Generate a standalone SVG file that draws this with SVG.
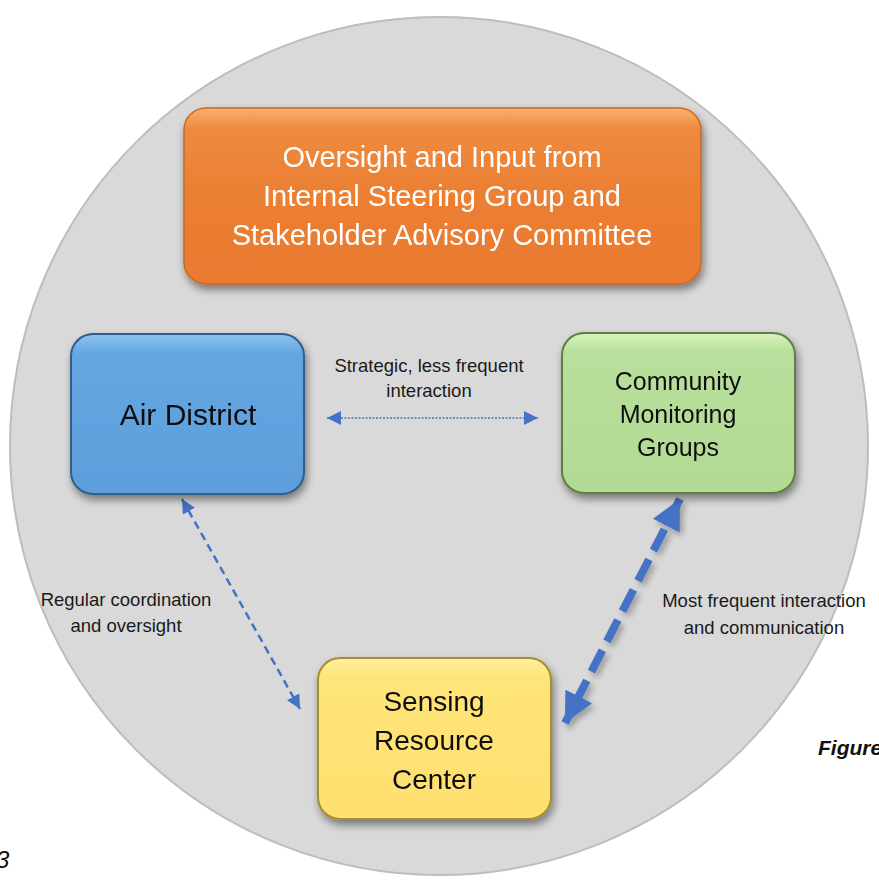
<svg xmlns="http://www.w3.org/2000/svg" width="879" height="880" viewBox="0 0 879 880">
  <defs>
    <style>
      .lbl { font-family: "Liberation Sans", Arial, sans-serif; font-size: 18.5px; fill: #1a1a1a; text-anchor: middle; }
      .big { font-family: "Liberation Sans", Arial, sans-serif; text-anchor: middle; }
      .conn { fill: none; stroke: #4472C4; }
    </style>
    <filter id="shadow" x="-20%" y="-20%" width="140%" height="150%">
      <feGaussianBlur in="SourceAlpha" stdDeviation="4"/>
      <feOffset dx="2" dy="5" result="b"/>
      <feComponentTransfer><feFuncA type="linear" slope="0.45"/></feComponentTransfer>
      <feMerge><feMergeNode/><feMergeNode in="SourceGraphic"/></feMerge>
    </filter>
    <filter id="arrowShadow" x="-30%" y="-30%" width="160%" height="160%">
      <feGaussianBlur in="SourceAlpha" stdDeviation="3"/>
      <feOffset dx="3" dy="4"/>
      <feComponentTransfer><feFuncA type="linear" slope="0.3"/></feComponentTransfer>
      <feMerge><feMergeNode/><feMergeNode in="SourceGraphic"/></feMerge>
    </filter>
    <linearGradient id="gOrange" x1="0" y1="0" x2="0" y2="1">
      <stop offset="0" stop-color="#F9B06C"/>
      <stop offset="0.12" stop-color="#EE8A3E"/>
      <stop offset="0.5" stop-color="#EB7F33"/>
      <stop offset="1" stop-color="#E97A30"/>
    </linearGradient>
    <linearGradient id="gBlue" x1="0" y1="0" x2="0" y2="1">
      <stop offset="0" stop-color="#8CC4F0"/>
      <stop offset="0.12" stop-color="#64A6E2"/>
      <stop offset="1" stop-color="#5E9EDC"/>
    </linearGradient>
    <linearGradient id="gGreen" x1="0" y1="0" x2="0" y2="1">
      <stop offset="0" stop-color="#D6F2BC"/>
      <stop offset="0.12" stop-color="#B8E09C"/>
      <stop offset="1" stop-color="#B2DA94"/>
    </linearGradient>
    <linearGradient id="gYellow" x1="0" y1="0" x2="0" y2="1">
      <stop offset="0" stop-color="#FFF0A0"/>
      <stop offset="0.12" stop-color="#FFE478"/>
      <stop offset="1" stop-color="#FFE070"/>
    </linearGradient>
    <marker id="hSmall" viewBox="0 0 10 10" refX="10" refY="5" markerWidth="14" markerHeight="16" markerUnits="userSpaceOnUse" orient="auto-start-reverse">
      <path d="M0,0 L10,5 L0,10 Z" fill="#4472C4"/>
    </marker>
    <marker id="hMid" viewBox="0 0 10 10" refX="10" refY="5" markerWidth="14" markerHeight="14" markerUnits="userSpaceOnUse" orient="auto-start-reverse">
      <path d="M0,0 L10,5 L0,10 Z" fill="#4472C4"/>
    </marker>
    <marker id="hBig" viewBox="0 0 10 10" refX="10" refY="5" markerWidth="30" markerHeight="30" markerUnits="userSpaceOnUse" orient="auto-start-reverse">
      <path d="M0,0 L10,5 L0,10 Z" fill="#4472C4"/>
    </marker>
  </defs>

  <rect width="879" height="880" fill="#FFFFFF"/>

  <!-- background disc -->
  <circle cx="439" cy="446" r="429" fill="#D9D9D9" stroke="#BDBDBD" stroke-width="2"/>

  <!-- page caption fragments -->
  <text x="818" y="755" font-family="'Liberation Sans', Arial, sans-serif" font-size="21" font-weight="bold" font-style="italic" fill="#111">Figure</text>
  <text x="-4" y="868" font-family="'Liberation Sans', Arial, sans-serif" font-size="24" font-style="italic" fill="#111">3</text>

  <!-- connectors -->
  <g id="connectors">
    <line class="conn" x1="327" y1="418" x2="538" y2="418" stroke-width="1.4" stroke-dasharray="2 1.5" marker-start="url(#hSmall)" marker-end="url(#hSmall)"/>
    <line class="conn" x1="182" y1="499" x2="300" y2="709" stroke-width="2.5" stroke-dasharray="8 5" marker-start="url(#hMid)" marker-end="url(#hMid)"/>
    <line class="conn" x1="680" y1="499" x2="565" y2="723" stroke-width="8" stroke-dasharray="24 10" marker-start="url(#hBig)" marker-end="url(#hBig)" filter="url(#arrowShadow)"/>
  </g>

  <!-- top oversight box -->
  <g id="oversight" filter="url(#shadow)">
    <rect x="184" y="108" width="517" height="176" rx="22" fill="url(#gOrange)" stroke="#C96A24" stroke-width="1.5"/>
    <text class="big" x="442" y="167" font-size="29" fill="#FFFFFF">Oversight and Input from</text>
    <text class="big" x="442" y="206" font-size="29" fill="#FFFFFF">Internal Steering Group and</text>
    <text class="big" x="442" y="245" font-size="29" fill="#FFFFFF">Stakeholder Advisory Committee</text>
  </g>

  <!-- Air District -->
  <g id="air-district" filter="url(#shadow)">
    <rect x="71" y="334" width="233" height="160" rx="22" fill="url(#gBlue)" stroke="#2F5F8C" stroke-width="2"/>
    <text class="big" x="188" y="425" font-size="30" fill="#111">Air District</text>
  </g>

  <!-- Community Monitoring Groups -->
  <g id="community" filter="url(#shadow)">
    <rect x="562" y="333" width="233" height="160" rx="22" fill="url(#gGreen)" stroke="#5E7E45" stroke-width="2"/>
    <text class="big" x="678" y="390" font-size="25" fill="#111">Community</text>
    <text class="big" x="678" y="423" font-size="25" fill="#111">Monitoring</text>
    <text class="big" x="678" y="456" font-size="25" fill="#111">Groups</text>
  </g>

  <!-- Sensing Resource Center -->
  <g id="sensing" filter="url(#shadow)">
    <rect x="318" y="658" width="233" height="161" rx="22" fill="url(#gYellow)" stroke="#A88E2A" stroke-width="2"/>
    <text class="big" x="434" y="711" font-size="28" fill="#111">Sensing</text>
    <text class="big" x="434" y="750" font-size="28" fill="#111">Resource</text>
    <text class="big" x="434" y="789" font-size="28" fill="#111">Center</text>
  </g>

  <!-- connector labels -->
  <g id="labels">
    <text class="lbl" x="429" y="372">Strategic, less frequent</text>
    <text class="lbl" x="429" y="397">interaction</text>
    <text class="lbl" x="126" y="606">Regular coordination</text>
    <text class="lbl" x="126" y="632">and oversight</text>
    <text class="lbl" x="764" y="607">Most frequent interaction</text>
    <text class="lbl" x="764" y="634">and communication</text>
  </g>
</svg>
